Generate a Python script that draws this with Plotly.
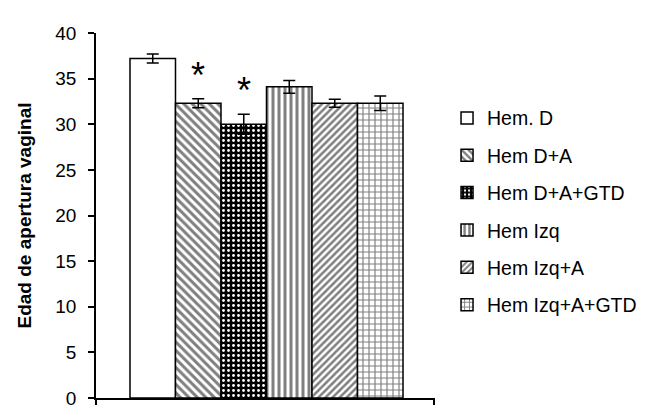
import plotly.graph_objects as go

categories = ["Hem. D", "Hem D+A", "Hem D+A+GTD", "Hem Izq", "Hem Izq+A", "Hem Izq+A+GTD"]
values = [37.2, 32.3, 30.0, 34.1, 32.3, 32.3]
errors = [0.5, 0.5, 1.1, 0.7, 0.45, 0.8]
significant = [False, True, True, False, False, False]
y_ticks = [0, 5, 10, 15, 20, 25, 30, 35, 40]

positions = list(range(1, len(categories) + 1))

styles = [
    dict(color="white", pattern=dict(shape="")),
    dict(color="white", pattern=dict(shape="\\", fgcolor="black", size=6, solidity=0.5)),
    dict(color="black", pattern=dict(shape=".", fgcolor="white", bgcolor="black", size=5, solidity=0.25, fillmode="replace")),
    dict(color="white", pattern=dict(shape="|", fgcolor="black", size=6, solidity=0.5)),
    dict(color="white", pattern=dict(shape="/", fgcolor="black", size=5, solidity=0.5)),
    dict(color="white", pattern=dict(shape="+", fgcolor="black", size=6, solidity=0.35)),
]

FONT = "Arial, 'Liberation Sans', sans-serif"

fig = go.Figure()
for i, (name, v, e, p) in enumerate(zip(categories, values, errors, positions)):
    st = styles[i]
    fig.add_trace(go.Bar(
        x=[p], y=[v], name=name, width=1,
        marker=dict(color=st["color"], pattern=st["pattern"],
                    line=dict(color="black", width=1.5)),
        error_y=dict(type="data", array=[e], visible=True, color="black",
                     thickness=1.5, width=6),
        legendgroup=name,
    ))

for p, v, e, s in zip(positions, values, errors, significant):
    if s:
        fig.add_annotation(x=p, y=v + e, text="*", showarrow=False,
                           yanchor="bottom", yshift=1,
                           font=dict(size=36, color="black", family=FONT))

fig.update_layout(
    width=647, height=409,
    margin=dict(l=88, r=220, t=25, b=8),
    paper_bgcolor="white", plot_bgcolor="white",
    barmode="overlay",
    font=dict(family=FONT, color="black"),
    showlegend=True,
    legend=dict(x=1.0355, y=0.82, xanchor="left", yanchor="top",
                font=dict(size=19.5), traceorder="grouped", tracegroupgap=9,
                bgcolor="rgba(0,0,0,0)"),
    xaxis=dict(range=[-0.247, 7.203], showline=True, linecolor="black", linewidth=1.5,
               tickvals=[-0.24, 7.19], ticktext=["", ""], ticks="outside",
               ticklen=5, tickcolor="black", tickwidth=1.5, showgrid=False, zeroline=False,
               fixedrange=True),
    yaxis=dict(range=[0, 40], showline=True, linecolor="black", linewidth=1.5,
               tickvals=y_ticks, ticks="outside", ticklen=6, tickcolor="black", tickwidth=1.5,
               ticklabelstandoff=8,
               showgrid=False, zeroline=False, tickfont=dict(size=19),
               title=dict(text="<b>Edad de apertura vaginal</b>", font=dict(size=19), standoff=19)),
)

fig.write_html("out.html")
